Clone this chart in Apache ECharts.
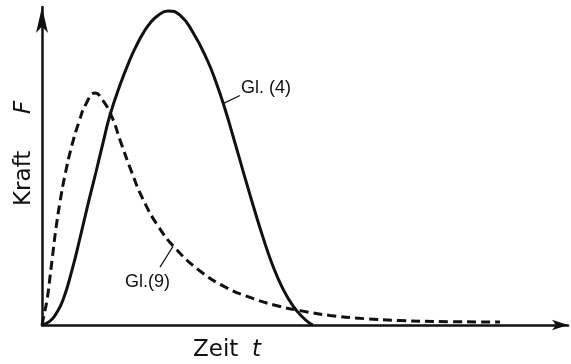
<!DOCTYPE html>
<html>
<head>
<meta charset="utf-8">
<script src="https://cdn.jsdelivr.net/npm/echarts@6/dist/echarts.min.js"></script>
<style>
  html, body { margin: 0; padding: 0; background: #fff; }
  #chart { width: 571px; height: 364px; }
</style>
</head>
<body>
<div id="chart"></div>
<script>
// Force-time pulse shapes: t in arbitrary time units, F in arbitrary force units
const gl4T = [0, 0.16, 0.28, 0.42, 0.60, 0.76, 0.92, 1.08, 1.22, 1.36, 1.56, 1.76, 1.90, 2.02, 2.16, 2.32, 2.52, 2.76, 3.02, 3.30, 3.50, 3.66, 3.82, 4.02, 4.22, 4.42, 4.62, 4.82, 5.02, 5.22, 5.36, 5.42];
const gl4F = [0, 0.013, 0.037, 0.083, 0.183, 0.29, 0.403, 0.51, 0.607, 0.70, 0.80, 0.885, 0.935, 0.972, 1.006, 1.032, 1.047, 1.033, 0.975, 0.885, 0.80, 0.72, 0.63, 0.514, 0.40, 0.292, 0.196, 0.12, 0.064, 0.025, 0.005, 0];

const gl9T = [0, 0.04, 0.10, 0.16, 0.22, 0.28, 0.36, 0.46, 0.60, 0.74, 0.88, 1.06, 1.22, 1.40, 1.56, 1.80, 2.02, 2.32, 2.66, 3.16, 3.66, 4.16, 4.66, 5.16, 5.76, 6.46, 7.16, 8.16, 9.16];
const gl9F = [0, 0.033, 0.083, 0.16, 0.243, 0.323, 0.41, 0.50, 0.60, 0.677, 0.737, 0.773, 0.748, 0.693, 0.617, 0.507, 0.419, 0.33, 0.257, 0.18, 0.127, 0.092, 0.066, 0.048, 0.032, 0.021, 0.015, 0.011, 0.01];

// Curve labels: point on the curve, end of the leader line
const labelNames = ['Gl. (4)', 'Gl.(9)'];
const labelOnCurve = [[3.62, 0.738], [2.62, 0.262]];
const labelLeaderEnd = [[3.96, 0.765], [2.36, 0.193]];

const tMax = 10.52;
const fMax = 1.06;

const ink = '#111';
const chart = echarts.init(document.getElementById('chart'), null, { renderer: 'canvas' });

const zip = (a, b) => a.map((v, i) => [v, b[i]]);

chart.setOption({
  animation: false,
  backgroundColor: '#fff',
  grid: { left: 42, right: 3, top: 7, bottom: 39 },
  xAxis: {
    type: 'value', min: 0, max: tMax,
    axisLine: {
      show: true, lineStyle: { color: ink, width: 2.5 },
      symbol: ['none', 'arrow'], symbolSize: [8, 16]
    },
    axisTick: { show: false }, axisLabel: { show: false }, splitLine: { show: false }
  },
  yAxis: {
    type: 'value', min: 0, max: fMax,
    axisLine: {
      show: true, lineStyle: { color: ink, width: 2.5 },
      symbol: ['none', 'arrow'], symbolSize: [9, 26]
    },
    axisTick: { show: false }, axisLabel: { show: false }, splitLine: { show: false }
  },
  series: [
    {
      name: 'Gl. (4)', type: 'line', data: zip(gl4T, gl4F), smooth: 0.5, clip: false,
      showSymbol: false, lineStyle: { color: ink, width: 3 }, z: 3
    },
    {
      name: 'Gl.(9)', type: 'line', data: zip(gl9T, gl9F), smooth: 0.5, clip: false,
      showSymbol: false, lineStyle: { color: ink, width: 3, type: [9, 5] }, z: 2
    }
  ]
});

// Leader lines and curve labels, placed through the grid's coordinate system
const px = p => chart.convertToPixel({ gridIndex: 0 }, p);
const labelFont = '18px "Liberation Sans", "DejaVu Sans", sans-serif';
const titleFont = '23px "DejaVu Sans", "Liberation Sans", sans-serif';
const titleFontItalic = 'italic 23px "DejaVu Sans", "Liberation Sans", sans-serif';
const graphics = [];
labelNames.forEach((name, i) => {
  const a = px(labelOnCurve[i]);
  const b = px(labelLeaderEnd[i]);
  graphics.push({
    type: 'line', shape: { x1: a[0], y1: a[1], x2: b[0], y2: b[1] },
    style: { stroke: ink, lineWidth: 1.2 }
  });
  const right = b[0] > a[0];
  graphics.push({
    type: 'text',
    x: right ? b[0] + 1 : b[0] + 10,
    y: right ? b[1] - 7 : b[1] + 15,
    style: {
      text: name, fill: ink, font: labelFont,
      textAlign: right ? 'left' : 'right', textVerticalAlign: 'middle'
    }
  });
});

// Axis titles
graphics.push({
  type: 'text', x: 193, y: 350,
  style: { text: 'Zeit', fill: ink, font: titleFont, textVerticalAlign: 'middle' }
});
graphics.push({
  type: 'text', x: 252, y: 350,
  style: { text: 't', fill: ink, font: titleFontItalic, textVerticalAlign: 'middle' }
});
graphics.push({
  type: 'text', x: 24, y: 206, rotation: Math.PI / 2,
  style: { text: 'Kraft', fill: ink, font: titleFont, textVerticalAlign: 'middle' }
});
graphics.push({
  type: 'text', x: 24, y: 114, rotation: Math.PI / 2,
  style: { text: 'F', fill: ink, font: titleFontItalic, textVerticalAlign: 'middle' }
});

chart.setOption({ graphic: graphics });
</script>
</body>
</html>
